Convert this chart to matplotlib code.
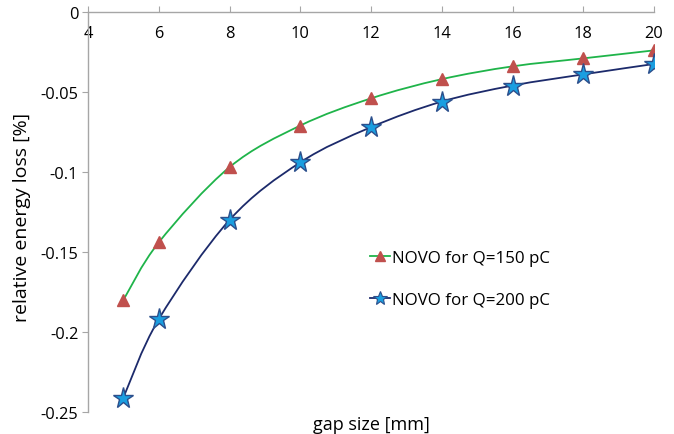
import numpy as np
import matplotlib
matplotlib.use('Agg')
import matplotlib.pyplot as plt
from matplotlib.path import Path
from matplotlib.patches import PathPatch
from matplotlib.lines import Line2D

plt.rcParams['font.family'] = ['Open Sans', 'DejaVu Sans']

# gap size [mm] and relative energy loss [%] for the two bunch charges
gap_mm = [5, 6, 8, 10, 12, 14, 16, 18, 20]
loss_150pc = [-0.180, -0.144, -0.097, -0.071, -0.054, -0.042, -0.034, -0.029, -0.024]
loss_200pc = [-0.241, -0.192, -0.130, -0.094, -0.072, -0.056, -0.046, -0.039, -0.0325]

x_ticks = [4, 6, 8, 10, 12, 14, 16, 18, 20]
y_ticks = [0, -0.05, -0.1, -0.15, -0.2, -0.25]
y_tick_labels = ['0', '-0.05', '-0.1', '-0.15', '-0.2', '-0.25']

GREEN = '#1fb44a'
NAVY = '#1c2a6b'
TRI_RED = '#c0504d'
STAR_FILL = '#1a9ee0'
STAR_EDGE = '#2c4f8c'


def smooth_path(xs, ys):
    """Cubic Bezier through all points (Catmull-Rom style tangents)."""
    pts = np.column_stack([xs, ys]).astype(float)
    n = len(pts)
    verts = [pts[0]]
    codes = [Path.MOVETO]
    for i in range(n - 1):
        p0 = pts[i - 1] if i > 0 else pts[i]
        p1 = pts[i]
        p2 = pts[i + 1]
        p3 = pts[i + 2] if i + 2 < n else pts[i + 1]
        c1 = p1 + (p2 - p0) / 6.0
        c2 = p2 - (p3 - p1) / 6.0
        verts += [c1, c2, p2]
        codes += [Path.CURVE4] * 3
    return Path(verts, codes)


fig = plt.figure(figsize=(6.74, 4.35), dpi=100)
ax = fig.add_axes([0.1306, 0.0506, 0.8398, 0.9196])

ax.add_patch(PathPatch(smooth_path(gap_mm, loss_150pc), fill=False,
                       edgecolor=GREEN, lw=1.3, zorder=2))
ax.add_patch(PathPatch(smooth_path(gap_mm, loss_200pc), fill=False,
                       edgecolor=NAVY, lw=1.3, zorder=2))

ax.plot(gap_mm, loss_150pc, ls='none', marker='^', ms=8.2,
        mfc=TRI_RED, mec=TRI_RED, zorder=3)
ax.plot(gap_mm, loss_200pc, ls='none', marker='*', ms=15.5,
        mfc=STAR_FILL, mec=STAR_EDGE, mew=1.0, zorder=3)

ax.set_xlim(4, 20)
ax.set_ylim(-0.25, 0)
ax.set_xticks(x_ticks)
ax.set_yticks(y_ticks)
ax.set_yticklabels(y_tick_labels)

for side in ['right', 'bottom']:
    ax.spines[side].set_visible(False)
for side in ['top', 'left']:
    ax.spines[side].set_color('#a6a6a6')
    ax.spines[side].set_linewidth(1.0)

ax.tick_params(axis='x', top=True, bottom=False, labeltop=True, labelbottom=False,
               direction='out', length=4, color='#a6a6a6', pad=-25,
               labelsize=11.8)
ax.tick_params(axis='y', direction='out', length=4, color='#a6a6a6',
               labelsize=11.8, pad=3)

ax.set_xlabel('gap size [mm]', fontsize=13)
ax.xaxis.label.set_va('center')
ax.xaxis.set_label_coords(0.5, -0.03)
ax.set_ylabel('relative energy loss [%]', fontsize=14)
ax.yaxis.label.set_va('center')
ax.yaxis.set_label_coords(-0.117, 0.49)

handles = [
    Line2D([], [], color=GREEN, lw=1.3, marker='^', ms=7.5, mfc=TRI_RED, mec=TRI_RED),
    Line2D([], [], color=NAVY, lw=1.3, marker='*', ms=10, mfc=STAR_FILL,
           mec=STAR_EDGE, mew=0.8),
]
fig.legend(handles, ['NOVO for Q=150 pC', 'NOVO for Q=200 pC'],
           loc='center left', bbox_to_anchor=(370 / 674, 1 - 280 / 435),
           borderaxespad=0, borderpad=0, frameon=False,
           fontsize=12.2, handlelength=1.2, handletextpad=0.1, labelspacing=1.55)

fig.savefig('out.png', dpi=100)
